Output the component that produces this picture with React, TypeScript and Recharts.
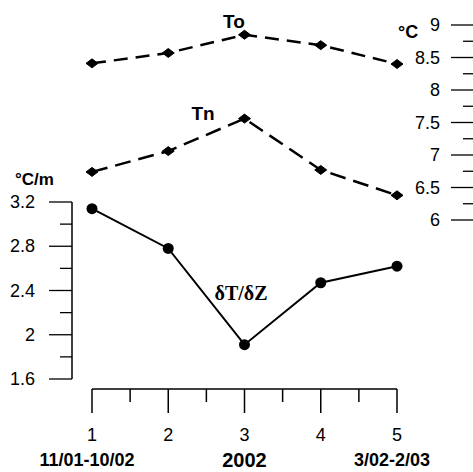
import React from 'react';
import { LineChart, Line, XAxis, YAxis } from 'recharts';

const periods = [1, 2, 3, 4, 5];
const periodNotes = ['11/01-10/02', '', '2002', '', '3/02-2/03'];
const toValues = [8.41, 8.57, 8.85, 8.69, 8.4];
const tnValues = [6.74, 7.06, 7.56, 6.77, 6.38];
const gradValues = [3.14, 2.78, 1.91, 2.47, 2.62];

const xTicks = [1, 1.5, 2, 2.5, 3, 3.5, 4, 4.5, 5];
const tempTicks = [6, 6.25, 6.5, 6.75, 7, 7.25, 7.5, 7.75, 8, 8.25, 8.5, 8.75, 9];
const tempMajor = [6, 6.5, 7, 7.5, 8, 8.5, 9];
const gradTicks = [1.6, 1.8, 2, 2.2, 2.4, 2.6, 2.8, 3, 3.2];
const gradMajor = [1.6, 2, 2.4, 2.8, 3.2];

const data = periods.map((p, i) => ({ period: p, To: toValues[i], Tn: tnValues[i], grad: gradValues[i] }));

const W = 473;
const H = 472;
const SANS = '"Liberation Sans", Arial, sans-serif';
const SERIF = '"Liberation Serif", "Times New Roman", serif';

const isMajor = (v: number, list: number[]) => list.some((m) => Math.abs(m - v) < 1e-6);

const XTick = (props: any) => {
  const { x, y, payload } = props;
  const v = payload.value;
  const major = Number.isInteger(v);
  const idx = periods.indexOf(v);
  const note = idx >= 0 ? periodNotes[idx] : '';
  return (
    <g>
      <line x1={x} y1={y} x2={x} y2={y + (major ? 24 : 13)} stroke="#000" strokeWidth={1.5} />
      {major && (
        <text x={x} y={y + 52} textAnchor="middle" fontFamily={SANS} fontSize={18} fill="#000">
          {v}
        </text>
      )}
      {note && (
        <text
          x={x - (note === '2002' ? 0 : 5)}
          y={y + (note === '2002' ? 78 : 77)}
          textAnchor="middle"
          fontFamily={SANS}
          fontWeight="bold"
          fontSize={note === '2002' ? 20 : 18}
          fill="#000"
        >
          {note}
        </text>
      )}
    </g>
  );
};

const TempTick = (props: any) => {
  const { x, y, payload } = props;
  const v = payload.value;
  const major = isMajor(v, tempMajor);
  return (
    <g>
      <line x1={x + (major ? 54 : 66)} y1={y} x2={x + 76} y2={y} stroke="#000" strokeWidth={1.3} />
      {major && (
        <text x={x + 43} y={y + 6} textAnchor="end" fontFamily={SANS} fontSize={18} fill="#000">
          {v}
        </text>
      )}
    </g>
  );
};

const GradTick = (props: any) => {
  const { x, y, payload } = props;
  const v = payload.value;
  const major = isMajor(v, gradMajor);
  return (
    <g>
      <line x1={x - (major ? 23 : 12)} y1={y} x2={x} y2={y} stroke="#000" strokeWidth={1.3} />
      {major && (
        <text x={x - 37} y={y + 6} textAnchor="end" fontFamily={SANS} fontSize={18} fill="#000">
          {v}
        </text>
      )}
    </g>
  );
};

const Diamond = (props: any) => {
  const { cx, cy, index } = props;
  if (cx == null || cy == null) return <g key={index} />;
  return (
    <path
      key={index}
      d={`M${cx - 6},${cy} L${cx},${cy - 4.5} L${cx + 6},${cy} L${cx},${cy + 4.5} Z`}
      fill="#000"
      stroke="#000"
      strokeWidth={1}
    />
  );
};

const Dot = (props: any) => {
  const { cx, cy, index } = props;
  if (cx == null || cy == null) return <g key={index} />;
  return <circle key={index} cx={cx} cy={cy} r={5.5} fill="#000" />;
};

export default function App() {
  return (
    <div style={{ position: 'absolute', left: 0, top: 0, width: W, height: H, background: '#fff' }}>
      <div style={{ position: 'absolute', left: 0, top: 0 }}>
        <LineChart width={W} height={H} data={data} margin={{ top: 25, right: 0, left: 92, bottom: 0 }}>
          <XAxis
            dataKey="period"
            type="number"
            domain={[1, 5]}
            ticks={xTicks}
            interval={0}
            height={83}
            tickSize={0}
            tickMargin={0}
            tickLine={false}
            axisLine={{ stroke: '#000', strokeWidth: 1.5 }}
            tick={<XTick />}
          />
          <YAxis
            yAxisId="temp"
            orientation="right"
            type="number"
            domain={[3.4, 9]}
            ticks={tempTicks}
            interval={0}
            width={76}
            tickSize={0}
            tickMargin={0}
            tickLine={false}
            axisLine={false}
            tick={<TempTick />}
          />
          <Line
            yAxisId="temp"
            dataKey="To"
            stroke="#000"
            strokeWidth={2.5}
            strokeDasharray="14 8"
            dot={Diamond}
            isAnimationActive={false}
          />
          <Line
            yAxisId="temp"
            dataKey="Tn"
            stroke="#000"
            strokeWidth={2.5}
            strokeDasharray="16 8"
            dot={Diamond}
            isAnimationActive={false}
          />
        </LineChart>
      </div>
      <div style={{ position: 'absolute', left: 0, top: 0 }}>
        <LineChart width={W} height={H} data={data} margin={{ top: 202, right: 76, left: 0, bottom: 93 }}>
          <XAxis dataKey="period" type="number" domain={[1, 5]} padding={{ left: 20, right: 0 }} hide />
          <YAxis
            yAxisId="grad"
            orientation="left"
            type="number"
            domain={[1.6, 3.2]}
            ticks={gradTicks}
            interval={0}
            width={72}
            tickSize={0}
            tickMargin={0}
            tickLine={false}
            axisLine={{ stroke: '#000', strokeWidth: 1.5 }}
            tick={<GradTick />}
          />
          <Line
            yAxisId="grad"
            dataKey="grad"
            stroke="#000"
            strokeWidth={2}
            dot={Dot}
            isAnimationActive={false}
          />
        </LineChart>
      </div>
      <svg width={W} height={H} style={{ position: 'absolute', left: 0, top: 0, pointerEvents: 'none' }}>
        <text x={234} y={28} textAnchor="middle" fontFamily={SANS} fontWeight="bold" fontSize={19} fill="#000">To</text>
        <text x={203} y={120} textAnchor="middle" fontFamily={SANS} fontWeight="bold" fontSize={19} fill="#000">Tn</text>
        <text x={398} y={38} fontFamily={SANS} fontWeight="bold" fontSize={18} fill="#000">°C</text>
        <text x={15} y={185} fontFamily={SANS} fontWeight="bold" fontSize={17} fill="#000">°C/m</text>
        <text x={241} y={300} textAnchor="middle" fontFamily={SERIF} fontWeight="bold" fontSize={20} fill="#000">δT/δZ</text>
      </svg>
    </div>
  );
}
